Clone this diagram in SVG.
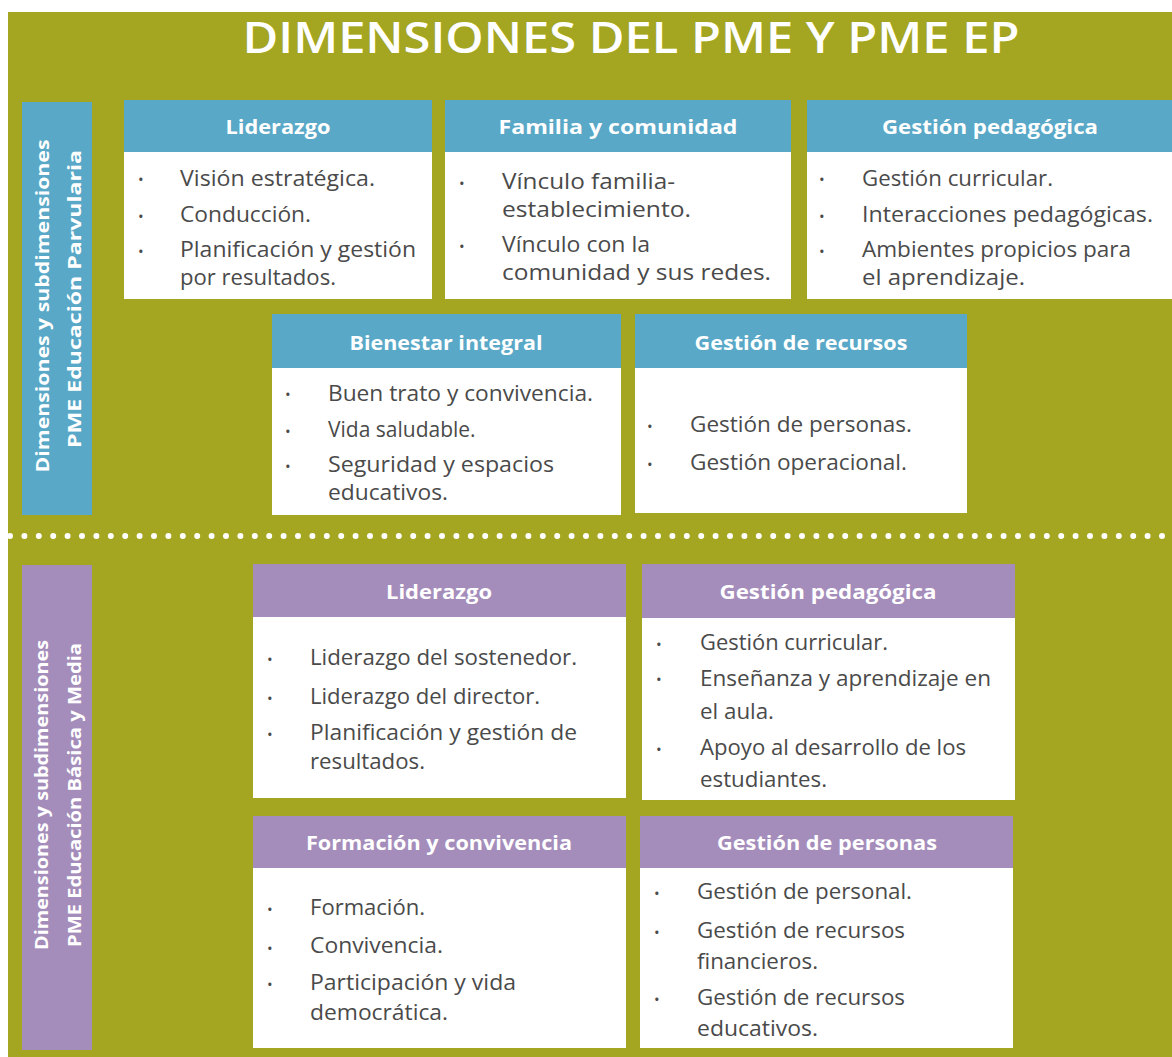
<svg xmlns="http://www.w3.org/2000/svg" width="1172" height="1057" viewBox="0 0 1172 1057">
<style>
.bg{fill:#A4A521}
.hb{fill:#59A8C7}
.hp{fill:#A58DBB}
.body{fill:#FFFFFF}
.ht{font-family:"Open Sans","Liberation Sans",sans-serif;font-weight:700;font-size:19px;fill:#FFFFFF;text-anchor:middle}
.tx{font-family:"Open Sans","Liberation Sans",sans-serif;font-size:21px;fill:#4A4A4A}
.bu{font-family:"Open Sans","Liberation Sans",sans-serif;font-size:15px;fill:#4A4A4A}
.side{font-family:"Open Sans","Liberation Sans",sans-serif;font-weight:700;font-size:18px;fill:#FFFFFF;text-anchor:middle}
.title{font-family:"Open Sans","Liberation Sans",sans-serif;font-weight:600;font-size:44px;fill:#FFFFFF;text-anchor:middle}
</style>
<rect x="0" y="0" width="1172" height="1057" fill="#FFFFFF"/>
<rect class="bg" x="8" y="12" width="1164" height="1045"/>
<text class="title" x="631" y="53" textLength="777" lengthAdjust="spacingAndGlyphs">DIMENSIONES DEL PME Y PME EP</text>

<g id="side-parvularia">
<rect class="hb" x="22" y="102" width="70" height="413"/>
<text class="side" transform="translate(49,306) rotate(-90)" textLength="333" lengthAdjust="spacingAndGlyphs">Dimensiones y subdimensiones</text>
<text class="side" transform="translate(81,299) rotate(-90)" textLength="298" lengthAdjust="spacingAndGlyphs">PME Educación Parvularia</text>
</g>

<g id="p-liderazgo">
<rect class="hb" x="124" y="100" width="308" height="52"/>
<rect class="body" x="124" y="152" width="308" height="147"/>
<text class="ht" x="278" y="134" textLength="105" lengthAdjust="spacingAndGlyphs">Liderazgo</text>
<text class="bu" x="138" y="185">•</text><text class="tx" x="180" y="186" textLength="195" lengthAdjust="spacingAndGlyphs">Visión estratégica.</text>
<text class="bu" x="138" y="222">•</text><text class="tx" x="180" y="222" textLength="131" lengthAdjust="spacingAndGlyphs">Conducción.</text>
<text class="bu" x="138" y="257">•</text><text class="tx" x="180" y="257" textLength="236" lengthAdjust="spacingAndGlyphs">Planificación y gestión</text>
<text class="tx" x="180" y="285" textLength="156" lengthAdjust="spacingAndGlyphs">por resultados.</text>
</g>

<g id="p-familia">
<rect class="hb" x="445" y="100" width="346" height="52"/>
<rect class="body" x="445" y="152" width="346" height="147"/>
<text class="ht" x="618" y="134" textLength="239" lengthAdjust="spacingAndGlyphs">Familia y comunidad</text>
<text class="bu" x="459" y="189">•</text><text class="tx" x="502" y="189" textLength="173" lengthAdjust="spacingAndGlyphs">Vínculo familia-</text>
<text class="tx" x="502" y="217" textLength="189" lengthAdjust="spacingAndGlyphs">establecimiento.</text>
<text class="bu" x="459" y="252">•</text><text class="tx" x="502" y="252" textLength="148" lengthAdjust="spacingAndGlyphs">Vínculo con la</text>
<text class="tx" x="502" y="280" textLength="269" lengthAdjust="spacingAndGlyphs">comunidad y sus redes.</text>
</g>

<g id="p-gestion-pedagogica">
<rect class="hb" x="807" y="100" width="365" height="52"/>
<rect class="body" x="807" y="152" width="365" height="147"/>
<text class="ht" x="990" y="134" textLength="216" lengthAdjust="spacingAndGlyphs">Gestión pedagógica</text>
<text class="bu" x="819" y="185">•</text><text class="tx" x="862" y="186" textLength="191" lengthAdjust="spacingAndGlyphs">Gestión curricular.</text>
<text class="bu" x="819" y="222">•</text><text class="tx" x="862" y="222" textLength="291" lengthAdjust="spacingAndGlyphs">Interacciones pedagógicas.</text>
<text class="bu" x="819" y="257">•</text><text class="tx" x="862" y="257" textLength="269" lengthAdjust="spacingAndGlyphs">Ambientes propicios para</text>
<text class="tx" x="862" y="285" textLength="163" lengthAdjust="spacingAndGlyphs">el aprendizaje.</text>
</g>

<g id="p-bienestar">
<rect class="hb" x="272" y="314" width="349" height="54"/>
<rect class="body" x="272" y="368" width="349" height="147"/>
<text class="ht" x="446" y="350" textLength="193" lengthAdjust="spacingAndGlyphs">Bienestar integral</text>
<text class="bu" x="285" y="400">•</text><text class="tx" x="328" y="401" textLength="265" lengthAdjust="spacingAndGlyphs">Buen trato y convivencia.</text>
<text class="bu" x="285" y="437">•</text><text class="tx" x="328" y="437">Vida saludable.</text>
<text class="bu" x="285" y="472">•</text><text class="tx" x="328" y="472" textLength="226" lengthAdjust="spacingAndGlyphs">Seguridad y espacios</text>
<text class="tx" x="328" y="500" textLength="120" lengthAdjust="spacingAndGlyphs">educativos.</text>
</g>

<g id="p-recursos">
<rect class="hb" x="635" y="314" width="332" height="54"/>
<rect class="body" x="635" y="368" width="332" height="145"/>
<text class="ht" x="801" y="350" textLength="213" lengthAdjust="spacingAndGlyphs">Gestión de recursos</text>
<text class="bu" x="647" y="432">•</text><text class="tx" x="690" y="432" textLength="222" lengthAdjust="spacingAndGlyphs">Gestión de personas.</text>
<text class="bu" x="647" y="470">•</text><text class="tx" x="690" y="470" textLength="217" lengthAdjust="spacingAndGlyphs">Gestión operacional.</text>
</g>

<g id="connectors">
<line x1="10" y1="536" x2="1172" y2="536" stroke="#FFFFFF" stroke-width="6" stroke-linecap="round" stroke-dasharray="0 14.4"/>
</g>

<g id="side-basica">
<rect class="hp" x="22" y="565" width="70" height="485"/>
<text class="side" transform="translate(48,795) rotate(-90)" textLength="310" lengthAdjust="spacingAndGlyphs">Dimensiones y subdimensiones</text>
<text class="side" transform="translate(81,795) rotate(-90)" textLength="304" lengthAdjust="spacingAndGlyphs">PME Educación Básica y Media</text>
</g>

<g id="b-liderazgo">
<rect class="hp" x="253" y="564" width="373" height="53"/>
<rect class="body" x="253" y="617" width="373" height="181"/>
<text class="ht" x="439" y="599" textLength="106" lengthAdjust="spacingAndGlyphs">Liderazgo</text>
<text class="bu" x="267" y="665">•</text><text class="tx" x="310" y="665" textLength="267" lengthAdjust="spacingAndGlyphs">Liderazgo del sostenedor.</text>
<text class="bu" x="267" y="704">•</text><text class="tx" x="310" y="704" textLength="230" lengthAdjust="spacingAndGlyphs">Liderazgo del director.</text>
<text class="bu" x="267" y="740">•</text><text class="tx" x="310" y="740" textLength="267" lengthAdjust="spacingAndGlyphs">Planificación y gestión de</text>
<text class="tx" x="310" y="769" textLength="115" lengthAdjust="spacingAndGlyphs">resultados.</text>
</g>

<g id="b-gestion-pedagogica">
<rect class="hp" x="642" y="564" width="373" height="54"/>
<rect class="body" x="642" y="618" width="373" height="182"/>
<text class="ht" x="828" y="599" textLength="217" lengthAdjust="spacingAndGlyphs">Gestión pedagógica</text>
<text class="bu" x="656" y="650">•</text><text class="tx" x="700" y="650" textLength="188" lengthAdjust="spacingAndGlyphs">Gestión curricular.</text>
<text class="bu" x="656" y="685">•</text><text class="tx" x="700" y="686" textLength="291" lengthAdjust="spacingAndGlyphs">Enseñanza y aprendizaje en</text>
<text class="tx" x="700" y="719" textLength="74" lengthAdjust="spacingAndGlyphs">el aula.</text>
<text class="bu" x="656" y="755">•</text><text class="tx" x="700" y="755" textLength="266" lengthAdjust="spacingAndGlyphs">Apoyo al desarrollo de los</text>
<text class="tx" x="700" y="787" textLength="127" lengthAdjust="spacingAndGlyphs">estudiantes.</text>
</g>

<g id="b-formacion">
<rect class="hp" x="253" y="816" width="373" height="52"/>
<rect class="body" x="253" y="868" width="373" height="180"/>
<text class="ht" x="439" y="850" textLength="266" lengthAdjust="spacingAndGlyphs">Formación y convivencia</text>
<text class="bu" x="267" y="915">•</text><text class="tx" x="310" y="915" textLength="115" lengthAdjust="spacingAndGlyphs">Formación.</text>
<text class="bu" x="267" y="954">•</text><text class="tx" x="310" y="953" textLength="133" lengthAdjust="spacingAndGlyphs">Convivencia.</text>
<text class="bu" x="267" y="990">•</text><text class="tx" x="310" y="990" textLength="206" lengthAdjust="spacingAndGlyphs">Participación y vida</text>
<text class="tx" x="310" y="1020" textLength="138" lengthAdjust="spacingAndGlyphs">democrática.</text>
</g>

<g id="b-personas">
<rect class="hp" x="640" y="816" width="373" height="52"/>
<rect class="body" x="640" y="868" width="373" height="180"/>
<text class="ht" x="827" y="850" textLength="220" lengthAdjust="spacingAndGlyphs">Gestión de personas</text>
<text class="bu" x="654" y="899">•</text><text class="tx" x="697" y="899" textLength="215" lengthAdjust="spacingAndGlyphs">Gestión de personal.</text>
<text class="bu" x="654" y="938">•</text><text class="tx" x="697" y="938" textLength="208" lengthAdjust="spacingAndGlyphs">Gestión de recursos</text>
<text class="tx" x="697" y="969" textLength="121" lengthAdjust="spacingAndGlyphs">financieros.</text>
<text class="bu" x="654" y="1005">•</text><text class="tx" x="697" y="1005" textLength="208" lengthAdjust="spacingAndGlyphs">Gestión de recursos</text>
<text class="tx" x="697" y="1036" textLength="121" lengthAdjust="spacingAndGlyphs">educativos.</text>
</g>
</svg>
